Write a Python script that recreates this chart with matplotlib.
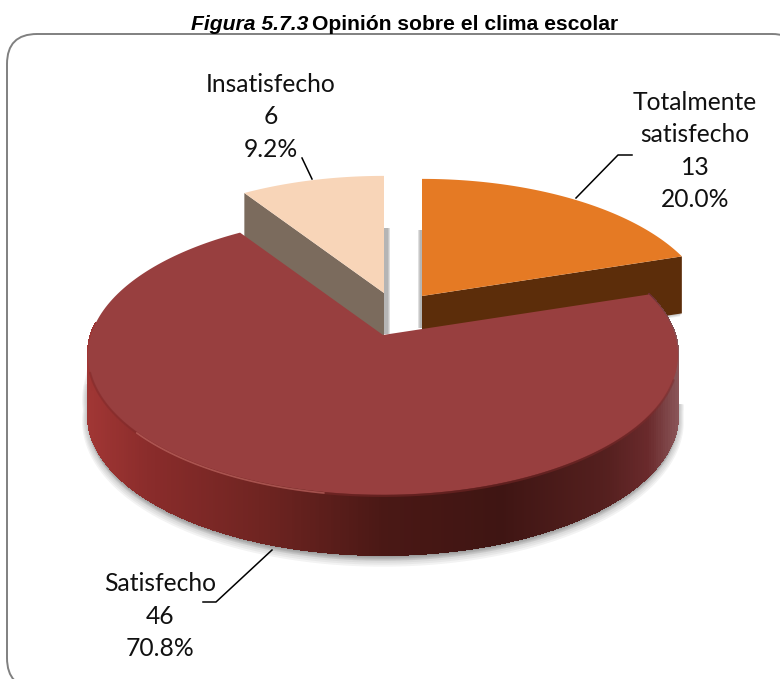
import numpy as np
import matplotlib
matplotlib.use('Agg')
import matplotlib.pyplot as plt
from matplotlib.collections import PolyCollection
from matplotlib.colors import LinearSegmentedColormap
from matplotlib.patches import FancyBboxPatch

# data
categories = ['Totalmente\nsatisfecho', 'Satisfecho', 'Insatisfecho']
counts = [13, 46, 6]
percents = [20.0, 70.8, 9.2]

# pie geometry, in pixels of the 780x679 image
apex = [(422, 296), (383, 335), (384, 293)]
scale = [0.977, 1.0, 0.977]
depth = [57, 60, 57]
top_colors = ['#E57A24', '#983F3F', '#F8D5B8']
persp = 1 / 7
rx, ry = 292, 137

label_pos = [(695, 151), (160, 616), (271, 117)]
leaders = [[(632, 155), (618, 155), (576, 198)],
           [(203, 602), (216, 602), (272, 550)],
           [(302, 158), (312, 179)]]

wall_cmap = LinearSegmentedColormap.from_list(
    'wall', [(0, '#A03634'), (0.1, '#8A2C2B'), (0.3, '#6E2421'), (0.5, '#4A1815'), (0.7, '#3F1513'),
             (0.88, '#55201F'), (0.95, '#6A2A2C'), (1, '#8A5558')])


def rim(i, theta):
    # perspective view of a circle, theta clockwise from 12 o'clock
    d = 1 + persp * np.cos(theta)
    x = apex[i][0] + scale[i] * rx * np.sin(theta) / d
    y = apex[i][1] - scale[i] * ry * np.cos(theta) / d
    return x, y


fig = plt.figure(figsize=(7.8, 6.79), dpi=100)
ax = fig.add_axes([0, 0, 1, 1])
ax.set_xlim(0, 780)
ax.set_ylim(679, 0)
ax.axis('off')

ax.add_patch(FancyBboxPatch((37, 64), 735, 594, boxstyle='round,pad=30,rounding_size=30',
                            fc='white', ec='#808080', lw=1.4))

edges = np.cumsum([0] + counts) / sum(counts) * 2 * np.pi
starts, ends = edges[:-1], edges[1:]


def top_face(i):
    t = np.linspace(starts[i], ends[i], 200)
    x, y = rim(i, t)
    return np.r_[apex[i][0], x], np.r_[apex[i][1], y]


def cut_face(i, theta, color):
    x, y = rim(i, theta)
    ax.fill([apex[i][0], x, x, apex[i][0]],
            [apex[i][1], y, y + depth[i], apex[i][1] + depth[i]], color=color, lw=0)


# orange slice
for k in range(3):
    ax.fill([apex[0][0] - 4 + k, apex[0][0] - 4 + k, apex[0][0], apex[0][0]],
            [apex[0][1] - 66, apex[0][1] + 32, apex[0][1] + 32, apex[0][1] - 66],
            color='#808080', alpha=0.25, lw=0)
x, y = rim(0, ends[0])
for k in range(3):
    ax.fill([x - 45, x - 2, x - 2 + k, x - 45], [y + depth[0] + 6, y + depth[0] - 4, y + depth[0] + 3 - k, y + depth[0] + 10 - k],
            color='#808080', alpha=0.15, lw=0)
cut_face(0, ends[0], '#5C2D0A')
ax.fill(*top_face(0), color=top_colors[0], lw=0)

# cream slice
for k in range(3):
    ax.fill([apex[2][0], apex[2][0], apex[2][0] + 6 - k, apex[2][0] + 6 - k],
            [apex[2][1] - 65, apex[2][1] + 41, apex[2][1] + 41, apex[2][1] - 65],
            color='#808080', alpha=0.25, lw=0)
cut_face(2, starts[2], '#7B6B5D')
ax.fill(*top_face(2), color=top_colors[2], lw=0)

# red slice, soft shadow first
t = np.radians(np.linspace(100, 268, 300))
x, y = rim(1, t)
for k in range(6, 0, -1):
    ax.fill(np.r_[x, x[::-1]], np.r_[y + 45, y[::-1] + depth[1] + k], color='#555555', alpha=0.07, lw=k * 1.4)

# wall is cut in thin strips to carry the shading
t = np.linspace(starts[1], ends[1] - 0.9, 900)
x, y = rim(1, t)
x0 = x.min()
x1 = x.max()
quads = [[(x[j], y[j]), (x[j + 1], y[j + 1]), (x[j + 1], y[j + 1] + depth[1]), (x[j], y[j] + depth[1])]
         for j in range(len(t) - 1)]
walls = PolyCollection(quads, array=(x[:-1] - x0) / (x1 - x0), cmap=wall_cmap, clim=(0, 1),
                       edgecolors='face', linewidths=1.0, antialiaseds=False)
ax.add_collection(walls)

ax.fill(*top_face(1), color=top_colors[1], lw=0)

# bevel on the front rim
t = np.radians(np.linspace(108, 255, 300))
x, y = rim(1, t)
ax.plot(x, y + 1, color='#7E2A2A', lw=1.6, alpha=0.5, solid_capstyle='round')
t = np.radians(np.linspace(190, 230, 100))
x, y = rim(1, t)
ax.plot(x, y + 1, color='#C8706A', lw=1.2, alpha=0.6, solid_capstyle='round')

# leader lines
for line in leaders:
    ax.plot(*zip(*line), color='black', lw=1.1)

# labels
for name, n, p, (lx, ly) in zip(categories, counts, percents, label_pos):
    ax.text(lx, ly, f'{name}\n{n}\n{p:.1f}%', ha='center', va='center', fontsize=17.7,
            family='Lato', color='#111111', linespacing=1.5)

# title
ax.text(308, 30, 'Figura 5.7.3', ha='right', va='baseline', fontsize=15.2, family='Liberation Sans',
        style='italic', weight='bold')
ax.text(312, 30, 'Opinión sobre el clima escolar', ha='left', va='baseline', fontsize=15.2,
        family='Liberation Sans', weight='bold')

fig.savefig('out.png', dpi=100)
